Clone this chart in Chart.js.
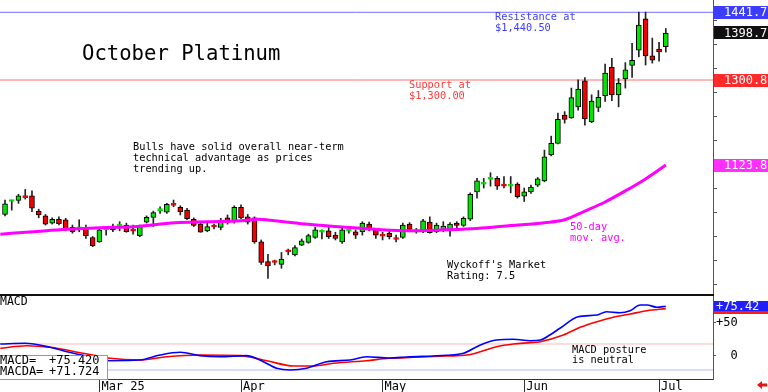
<!DOCTYPE html>
<html>
<head>
<meta charset="utf-8">
<script src="https://cdn.jsdelivr.net/npm/chart.js@4.4.1/dist/chart.umd.min.js"></script>
<style>
  html, body { margin:0; padding:0; background:#fff; }
  #wrap { position:relative; width:768px; height:392px; overflow:hidden; }
  canvas { display:block; }
  #sep { height:2px; width:714px; background:#111; }
</style>
</head>
<body>
<div id="wrap">
  <canvas id="price" width="768" height="294"></canvas>
  <div id="sep"></div>
  <canvas id="macd" width="768" height="96"></canvas>
</div>
<script>
/* ---------- data (one candle per trading day, Feb 10 .. Jul 2) ---------- */
const opens  = [1021,1048,1050,1058,1060,1028,1018,1003,1011,1010, 994, 991, 994, 973, 964, 989, 989, 997, 999, 988,
                 977,1005,1015,1029,1026,1042,1036,1030,1011,1001, 987, 996, 994,1014,1006,1036,1016,1014, 964, 923,
                 922, 917, 944, 937, 957, 963, 973, 984, 987, 978, 964, 986, 985, 985,1001, 989, 978, 982, 971, 973,
                1001, 984, 987,1005, 985, 989, 987,1003, 998,1011,1068,1084,1094,1096,1082,1080,1084,1059,1068,1082,
                1091,1145,1169,1228,1222,1245,1299,1214,1244,1268,1327,1270,1303,1331,1363,1428,1351,1365,1370];
const highs  = [1051,1051,1063,1073,1070,1032,1021,1014,1016,1013, 999,1010, 999, 975, 992, 994,1001,1006,1003, 999,
                 999,1018,1028,1037,1044,1051,1039,1034,1014,1003,1003,1001,1013,1020,1039,1041,1021,1016, 968, 938,
                 926, 942, 949, 956, 970, 980, 994, 989, 996, 984, 992, 990, 989,1006,1005, 992, 984, 989, 978,1003,
                1004, 992,1011,1016,1003,1006,1004,1006,1016,1066,1096,1096,1108,1100,1100,1100,1087,1076,1082,1098,
                1155,1184,1232,1235,1284,1301,1306,1270,1279,1334,1346,1304,1337,1377,1442,1442,1388,1379,1408];
const lows   = [1018,1030,1044,1053,1027,1014, 999,1001, 999, 987, 982, 985, 971, 954, 963, 978, 985, 987, 984, 980,
                 975,1003, 996,1023,1023,1037,1020,1010, 996, 984, 985, 991, 989,1001,1003,1012,1001, 961, 917, 888,
                 916, 909, 937, 935, 956, 961, 971, 970, 971, 968, 961, 982, 971, 978, 987, 971, 968, 970, 964, 971,
                 985, 982, 983, 982, 983, 985, 976, 992, 996,1008,1055,1076,1080,1073,1076,1066,1055,1048,1065,1079,
                1089,1143,1168,1211,1221,1238,1207,1212,1235,1256,1258,1245,1284,1306,1349,1332,1336,1340,1359];
const closes = [1043,1050,1060,1056,1034,1020,1001,1011,1002, 989, 985, 993, 977, 956, 989, 991, 996, 998, 985, 986,
                 998,1015,1025,1031,1042,1040,1027,1012, 998, 984, 996, 995,1007,1005,1036,1014,1005, 964, 921, 914,
                 921, 928, 943, 952, 966, 977, 989, 985, 975, 971, 989, 987, 978,1003, 991, 978, 976, 975, 969, 999,
                 990, 986,1008, 983, 999, 997,1001, 998,1013,1063,1091,1085,1095,1080,1080,1082,1058,1068,1078,1095,
                1141,1169,1219,1219,1264,1282,1220,1257,1265,1315,1270,1294,1322,1342,1415,1351,1342,1359,1398.7];

// 50-day moving average, read at these candle positions
const maIdx = [-0.7, 4.2, 9.2, 14.1, 19, 25.2, 30.1, 35, 37.5, 40, 45, 50, 55, 60, 65, 70, 75, 80, 83, 86, 89, 92, 95, 98];
const maVal = [980, 985, 990, 993.5, 995.5, 1004, 1006, 1008, 1011, 1008, 1000.5, 995, 990, 987, 989, 992, 998, 1004, 1010, 1028, 1047, 1070, 1095, 1123.8];

// MACD (blue) and MACDA signal (red)
const macdIdx = [-0.7, 3, 6.7, 9.2, 12.6, 15.6, 20, 23, 26, 28.9, 31.9, 35.8, 37.8, 40.3, 42.3, 44.7, 47.7, 51.2, 53.6, 57,
                 59.6, 65.5, 68, 70.5, 72.9, 75.4, 77.9, 79.4, 80.8, 82.3, 85, 87.8, 89.2, 91.2, 92.7, 94.2, 95.2, 96.7, 98];
const macdVal = [18.2, 19.2, 13.2, 6.5, -1.1, -7.1, -6.1, 1.5, 5.6, 0.5, -1.1, 0.5, -6.1, -18.6, -21.2, -18.6, -8.6, -6.1, -1.1, -3,
                 -1.5, 1.1, 4.1, 16.7, 24.2, 25.3, 23.2, 24.2, 31.8, 42, 59.5, 62.1, 67.1, 65.6, 68.6, 77.3, 77.3, 73.8, 75.42];
const signalIdx = [-0.7, 3.2, 6.7, 11.6, 15.6, 20, 24, 28.9, 34.9, 38.8, 42.8, 45.7, 48.7, 53.6, 57, 60.6, 65.5, 68.5, 70.5, 72.9,
                   75.4, 77.9, 79.4, 82.8, 85.3, 87.8, 90.2, 92.7, 95.2, 98];
const signalVal = [11.7, 15.6, 13.2, 4.1, -3.5, -6.1, -1.1, 1.5, 0.5, -7.1, -15.2, -15.2, -11.1, -7.1, -3.5, -2, 0, 1.5, 6.5, 14.1,
                   18.2, 20.2, 21.7, 31.8, 43.5, 52, 58.6, 63.6, 68.6, 71.724];

const resistance = 1441.7;
const support = 1300.8;
const macdUpper = 18.2;
const macdLower = -21.2;

// first trading day of each month -> tick
const monthIdx = [14, 35, 56, 77, 97];
const monthLbl = ['Mar 25', 'Apr', 'May', 'Jun', 'Jul'];

/* ---------- shared bits ---------- */
const MONO = '"DejaVu Sans Mono", monospace';
Chart.defaults.font.family = MONO;
Chart.defaults.color = '#000';
const X_MIN = -0.742, X_MAX = 105.0;
const UP = '#00e400', DOWN = '#f00000';

function fitRight(s){ s.width = 55; s.paddingTop = 0; s.paddingBottom = 0; }
function text(ctx, str, x, y, color, size){
  ctx.save();
  ctx.font = size + 'px ' + MONO;
  ctx.fillStyle = color;
  ctx.textBaseline = 'middle';
  ctx.textAlign = 'left';
  ctx.fillText(str, x, y);
  ctx.restore();
}
function tag(ctx, y, h, bg, str){
  ctx.save();
  ctx.fillStyle = bg;
  ctx.fillRect(714, Math.round(y - h / 2), 54, h);
  ctx.restore();
  text(ctx, str, 724, y + 0.5, '#fff', 12);
}
const hline = (v, color) => ({
  type: 'line', data: [{x: X_MIN, y: v}, {x: X_MAX, y: v}],
  borderColor: color, borderWidth: 1, pointRadius: 0, order: 5
});

/* ---------- price panel ---------- */
const doji = i => Math.abs(closes[i] - opens[i]) <= 2.5;
const bodyColor = closes.map((c, i) => c >= opens[i] ? UP : DOWN);

const priceDecor = {
  id: 'priceDecor',
  afterDraw(chart){
    const ctx = chart.ctx, y = chart.scales.y;
    tag(ctx, y.getPixelForValue(resistance), 13, '#3c3cff', resistance.toFixed(1));
    tag(ctx, y.getPixelForValue(closes[closes.length - 1]), 13, '#111', closes[closes.length - 1].toFixed(1));
    tag(ctx, y.getPixelForValue(support), 13, '#ff2a2a', support.toFixed(1));
    tag(ctx, y.getPixelForValue(maVal[maVal.length - 1]), 13, '#ff30ff', maVal[maVal.length - 1].toFixed(1));

    text(ctx, 'October Platinum', 82, 55, '#000', 20.6);
    text(ctx, 'Bulls have solid overall near-term', 133, 147.5, '#000', 10.3);
    text(ctx, 'technical advantage as prices', 133, 158.5, '#000', 10.3);
    text(ctx, 'trending up.', 133, 169.5, '#000', 10.3);
    text(ctx, 'Resistance at', 495, 17.5, '#3c3cff', 10.3);
    text(ctx, '$1,440.50', 495, 28.5, '#3c3cff', 10.3);
    text(ctx, 'Support at', 409, 85, '#ff3c3c', 10.3);
    text(ctx, '$1,300.00', 409, 96, '#ff3c3c', 10.3);
    text(ctx, "Wyckoff's Market", 447, 265, '#000', 10.3);
    text(ctx, 'Rating: 7.5', 447, 276, '#000', 10.3);
    text(ctx, '50-day', 570, 227.5, '#ff00ff', 10.3);
    text(ctx, 'mov. avg.', 570, 238, '#ff00ff', 10.3);
  }
};

new Chart(document.getElementById('price'), {
  type: 'bar',
  data: {
    datasets: [
      {
        type: 'line', data: maIdx.map((x, i) => ({x, y: maVal[i]})),
        borderColor: '#ff00ff', borderWidth: 3, pointRadius: 0,
        cubicInterpolationMode: 'monotone', order: 0
      },
      {
        data: closes.map((c, i) => ({x: i, y: [opens[i], c]})),
        backgroundColor: bodyColor,
        borderColor: closes.map((c, i) => doji(i) ? bodyColor[i] : '#000'),
        borderWidth: 1, borderSkipped: false, barThickness: 5, minBarLength: 2,
        grouped: false, order: 1
      },
      {
        data: lows.map((l, i) => ({x: i, y: [l, highs[i]]})),
        backgroundColor: '#222', borderWidth: 0, barThickness: 1,
        grouped: false, order: 2
      },
      hline(resistance, '#6f6fff'),
      hline(support, '#ff6f6f')
    ]
  },
  options: {
    responsive: false, animation: false, events: [],
    layout: { padding: 0 },
    plugins: { legend: { display: false }, tooltip: { enabled: false } },
    scales: {
      x: { type: 'linear', min: X_MIN, max: X_MAX, offset: false, display: false },
      y: {
        position: 'right', min: 855.5, max: 1467.3,
        afterFit: fitRight,
        border: { display: true, color: '#555' },
        grid: { drawOnChartArea: false, tickLength: 4, color: '#555' },
        ticks: {
          stepSize: 25, includeBounds: false, padding: 7, crossAlign: 'near',
          font: { size: 12 }, color: '#000',
          callback: v => v % 100 === 0 ? v.toFixed(1).padStart(6, ' ') : ''
        }
      }
    }
  },
  plugins: [priceDecor]
});

/* ---------- MACD panel ---------- */
const macdDecor = {
  id: 'macdDecor',
  afterDatasetsDraw(chart){
    const ctx = chart.ctx;
    ctx.save();
    ctx.fillStyle = '#fff';
    ctx.strokeStyle = '#999';
    ctx.lineWidth = 1;
    ctx.fillRect(-1, 59, 109, 24);
    ctx.strokeRect(-0.5, 59.5, 108, 24);
    ctx.restore();
    text(ctx, 'MACD=', 0, 64.5, '#000', 12);
    text(ctx, '+' + macdVal[macdVal.length - 1].toFixed(3), 49, 64.5, '#000', 12);
    text(ctx, 'MACDA=', 0, 75.5, '#000', 12);
    text(ctx, '+' + signalVal[signalVal.length - 1].toFixed(3), 49, 75.5, '#000', 12);
    text(ctx, 'MACD', 0, 6.5, '#000', 11.5);
    text(ctx, 'MACD posture', 572, 54, '#000', 10.3);
    text(ctx, 'is neutral', 572, 64.5, '#000', 10.3);
  },
  afterDraw(chart){
    const ctx = chart.ctx, y = chart.scales.y;
    const yb = y.getPixelForValue(macdVal[macdVal.length - 1]);
    const yr = y.getPixelForValue(signalVal[signalVal.length - 1]);
    ctx.save();
    ctx.fillStyle = '#ff1a1a';
    ctx.fillRect(714, Math.round(yr - 5), 54, 10);
    ctx.fillStyle = '#2020ff';
    ctx.fillRect(714, Math.round(yb - 5), 54, 10);
    ctx.restore();
    text(ctx, '+' + macdVal[macdVal.length - 1].toFixed(2), 716, yb + 0.5, '#fff', 12);
    // little red arrow, bottom right
    ctx.save();
    ctx.fillStyle = '#ee1111';
    ctx.beginPath();
    ctx.moveTo(757, 89); ctx.lineTo(762, 85); ctx.lineTo(762, 93); ctx.closePath();
    ctx.fill();
    ctx.fillRect(761, 87.5, 6, 3);
    ctx.restore();
  }
};

new Chart(document.getElementById('macd'), {
  type: 'line',
  data: {
    datasets: [
      {
        data: macdIdx.map((x, i) => ({x, y: macdVal[i]})),
        borderColor: '#0000ff', borderWidth: 1.6, pointRadius: 0,
        cubicInterpolationMode: 'monotone', order: 1
      },
      {
        data: signalIdx.map((x, i) => ({x, y: signalVal[i]})),
        borderColor: '#ff0000', borderWidth: 1.6, pointRadius: 0,
        cubicInterpolationMode: 'monotone', order: 2
      },
      hline(macdUpper, '#ffb8b8'),
      hline(macdLower, '#b8b8ff')
    ]
  },
  options: {
    responsive: false, animation: false, events: [],
    layout: { padding: 0 },
    plugins: { legend: { display: false }, tooltip: { enabled: false } },
    scales: {
      x: {
        type: 'linear', min: X_MIN, max: X_MAX, offset: false, position: 'bottom',
        afterBuildTicks: s => { s.ticks = monthIdx.map(v => ({value: v})); },
        afterFit: s => { s.height = 13; s.paddingLeft = 0; s.paddingRight = 0; },
        border: { display: true, color: '#333' },
        grid: { drawOnChartArea: false, tickLength: 13, color: '#333' },
        ticks: {
          align: 'start', padding: -12, labelOffset: 2, maxRotation: 0, autoSkip: false,
          font: { size: 12 }, color: '#000',
          callback: (v, i) => monthLbl[i]
        }
      },
      y: {
        position: 'right', min: -34.85, max: 90.9,
        afterFit: fitRight,
        border: { display: true, color: '#555' },
        grid: { drawOnChartArea: false, tickLength: 3, color: '#555' },
        ticks: {
          stepSize: 50, includeBounds: false, padding: 0, crossAlign: 'near',
          font: { size: 12 }, color: '#000',
          callback: v => v === 0 ? '  0' : '+' + v
        }
      }
    }
  },
  plugins: [macdDecor]
});
</script>
</body>
</html>
